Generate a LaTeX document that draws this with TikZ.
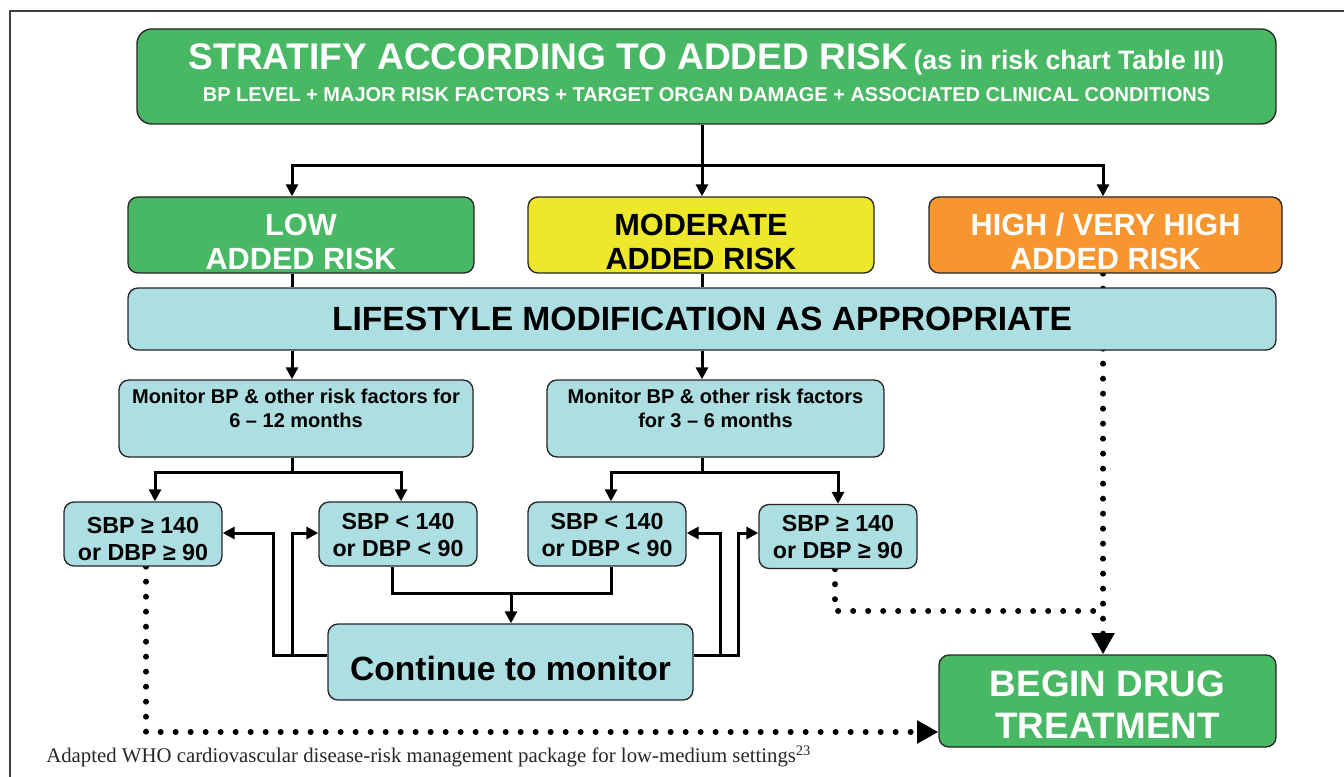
\documentclass[tikz,border=0pt]{standalone}
\usepackage{fontspec}
\setmainfont{Liberation Sans}
\newfontfamily\notefont{Liberation Serif}
\usetikzlibrary{arrows.meta,backgrounds}

\definecolor{riskgreen}{RGB}{72,184,100}
\definecolor{riskyellow}{RGB}{237,232,41}
\definecolor{riskorange}{RGB}{247,150,46}
\definecolor{monblue}{RGB}{173,222,225}

\begin{document}
\begin{tikzpicture}[x=0.75pt, y=-0.75pt,
    box/.style={draw=black!85, line width=1pt, rounded corners=7.5pt, inner sep=0pt, align=center, font=\bfseries},
    riskbox/.style={box, minimum width=259.5pt, minimum height=57pt, text height=51.75pt, text depth=0pt,
      font=\bfseries\fontsize{23}{25.5}\selectfont},
    sbpbox/.style={box, fill=monblue, minimum width=118.5pt, minimum height=48pt, text height=33pt, text depth=0pt,
      font=\bfseries\fontsize{17.4}{20.25}\selectfont},
    monbox/.style={box, fill=monblue, minimum height=57.75pt, text height=12.75pt, text depth=0pt,
      font=\bfseries\fontsize{15}{18}\selectfont},
    wire/.style={line width=2.25pt},
    arrowed/.style={-{Triangle[length=9pt,width=9pt]}},
    dotwire/.style={line width=4.5pt, line cap=round, dash pattern=on 0pt off 11.25pt},
    bigarrowed/.style={-{Triangle[length=16pt,width=16.5pt]}},
  ]
    \useasboundingbox (0,0) rectangle (1344,777);
    \draw[black!75, line width=0.9pt] (10,777) -- (10,11) -- (1344,11);

    % risk stratification
    \node[box, fill=riskgreen, text=white, rounded corners=11pt, minimum width=854.25pt, minimum height=71.25pt,
          text height=38.25pt, text depth=0pt, font=\bfseries\fontsize{15}{24}\selectfont]
        (top) at (706.5,76.5)
        {{\fontsize{27.8}{30}\selectfont STRATIFY ACCORDING TO ADDED RISK} {\fontsize{20}{22}\selectfont (as in risk chart Table III)}\\
         BP LEVEL + MAJOR RISK FACTORS + TARGET ORGAN DAMAGE + ASSOCIATED CLINICAL CONDITIONS};

    \node[riskbox, fill=riskgreen, text=white] (low) at (301,235) {LOW\\ADDED RISK};
    \node[riskbox, fill=riskyellow] (modr) at (701,235) {MODERATE\\ADDED RISK};
    \node[riskbox, fill=riskorange, text=white, minimum width=264.75pt] (high) at (1105.5,235) {HIGH / VERY HIGH\\ADDED RISK};

    \node[box, fill=monblue, minimum width=861pt, minimum height=46.5pt, text height=16.5pt, text depth=0pt,
          font=\bfseries\fontsize{25.2}{28}\selectfont]
        (life) at (702,319) {LIFESTYLE MODIFICATION AS APPROPRIATE};

    % monitoring
    \node[monbox, minimum width=265.5pt] (monL) at (296,418.5) {Monitor BP \& other risk factors for\\6 -- 12 months};
    \node[monbox, minimum width=252.75pt] (monR) at (715.5,418.5) {Monitor BP \& other risk factors\\for 3 -- 6 months};

    \node[sbpbox, text height=39pt] (s1) at (143,534) {SBP ≥ 140\\or DBP ≥ 90};
    \node[sbpbox] (s2) at (398,534) {SBP < 140\\or DBP < 90};
    \node[sbpbox] (s3) at (607,534) {SBP < 140\\or DBP < 90};
    \node[sbpbox] (s4) at (838,536.5) {SBP ≥ 140\\or DBP ≥ 90};

    \node[box, fill=monblue, minimum width=273.75pt, minimum height=57pt, text height=27pt, text depth=0pt,
          font=\bfseries\fontsize{25.2}{28}\selectfont]
        (cont) at (510.5,662) {Continue to monitor};

    \node[box, fill=riskgreen, text=white, minimum width=252.75pt, minimum height=69pt, text height=55.5pt, text depth=0pt,
          font=\bfseries\fontsize{27.6}{31.5}\selectfont]
        (drug) at (1107.5,701) {BEGIN DRUG\\TREATMENT};

    \node[anchor=base west, inner sep=0pt, text=black!85, font=\notefont\fontsize{15.6}{18}\selectfont]
        (src) at (46,762) {Adapted WHO cardiovascular disease-risk management package for low-medium settings\textsuperscript{23}};

    % connectors
    \coordinate (colA) at (292,166);
    \coordinate (colB) at (702,166);
    \coordinate (colC) at (1103,166);
    \coordinate (jL) at (292,472);
    \coordinate (jR) at (702,472);
    \coordinate (jC) at (511,593);
    \coordinate (loopLo) at (273,533);
    \coordinate (loopLi) at (292,533);
    \coordinate (loopRi) at (720,533);
    \coordinate (loopRo) at (738,533);
    \coordinate (contL) at ([yshift=5.25pt]cont.west);
    \coordinate (contR) at ([yshift=5.25pt]cont.east);
    \coordinate (dotB) at (146,732);
    \coordinate (dotR) at (1103,611);

    \begin{pgfonlayer}{background}
        \draw[wire] (top.south -| colB) -- (colB);
        \draw[wire, arrowed] (colB) -| (low.north -| colA);
        \draw[wire, arrowed] (colB) -- (modr.north -| colB);
        \draw[wire, arrowed] (colB) -| (high.north -| colC);

        \draw[wire] (low.south -| colA) -- (life.north -| colA);
        \draw[wire] (modr.south -| colB) -- (life.north -| colB);
        \draw[wire, arrowed] (life.south -| colA) -- (monL.north -| colA);
        \draw[wire, arrowed] (life.south -| colB) -- (monR.north -| colB);

        \draw[wire] (monL.south -| jL) -- (jL);
        \draw[wire, arrowed] (jL) -| ([xshift=9pt]s1.north);
        \draw[wire, arrowed] (jL) -| ([xshift=2.25pt]s2.north);
        \draw[wire] (monR.south -| jR) -- (jR);
        \draw[wire, arrowed] (jR) -| ([xshift=3pt]s3.north);
        \draw[wire, arrowed] (jR) -| (s4.north);

        \draw[wire] ([xshift=-4.5pt]s2.south) |- (jC) -| ([xshift=3pt]s3.south);
        \draw[wire, arrowed] (jC) -- (cont.north -| jC);

        \draw[wire, arrowed] (contL) -| (loopLo) -- (s1.east |- loopLo);
        \draw[wire, arrowed] (contL -| loopLi) -- (loopLi) -- (s2.west |- loopLi);
        \draw[wire, arrowed] (contR) -| (loopRo) -- (s4.west |- loopRo);
        \draw[wire, arrowed] (contR -| loopRi) -- (loopRi) -- (s3.east |- loopRi);

        \draw[dotwire, bigarrowed] (high.south -| colC) -- (drug.north -| colC);
        \draw[dotwire] ([xshift=-2.25pt]s4.south) |- (dotR);
        \draw[dotwire, bigarrowed] ([xshift=2.25pt]s1.south) |- (drug.west |- dotB);
    \end{pgfonlayer}
\end{tikzpicture}
\end{document}
